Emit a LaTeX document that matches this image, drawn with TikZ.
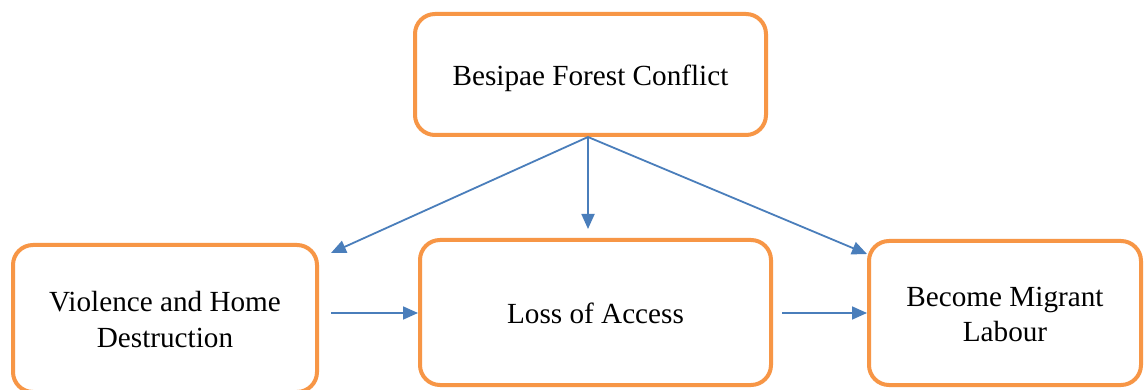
\documentclass[tikz,border=0pt]{standalone}
\usepackage{fontspec}
\setmainfont{Liberation Serif}
\usetikzlibrary{arrows.meta}
\definecolor{boxorange}{HTML}{F79646}
\definecolor{arrowblue}{HTML}{4A7EBB}
\newcommand{\lowtext}[1]{\raisebox{-4pt}[\height][\depth]{\begin{tabular}{@{}c@{}}#1\end{tabular}}}
\begin{document}
\begin{tikzpicture}[x=1pt,y=-1pt,
  box/.style={draw=boxorange, line width=4pt, rounded corners=20pt, fill=white,
    align=center, inner sep=0pt, font=\fontsize{29.2}{35}\selectfont},
  arr/.style={draw=arrowblue, line width=1.8pt, -{Triangle[length=15pt,width=13pt]}}]
\useasboundingbox (0,0) rectangle (1144,390);
\clip (0,0) rectangle (1144,390);
\fill[white] (0,0) rectangle (1144,390);
\node[box, minimum width=351pt, minimum height=121pt] (conf) at (590.5,74.5) {\lowtext{Besipae Forest Conflict}};
\node[box, minimum width=304pt, minimum height=147pt] (viol) at (165,318.5) {\lowtext{Violence and Home\\Destruction}};
\node[box, minimum width=351pt, minimum height=145pt] (loss) at (595.5,312.5) {\lowtext{Loss of Access}};
\node[box, minimum width=272pt, minimum height=144pt] (migr) at (1005,313) {\lowtext{Become Migrant\\Labour}};
\coordinate (src) at ([xshift=-2.5pt]conf.south);
\coordinate (tipL) at (331,253);
\coordinate (tipM) at (588,229);
\coordinate (tipR) at (867,254);
\coordinate (hA) at (331,313);
\coordinate (hB) at (782,313);
\draw[arr] (src) -- (tipL);
\draw[arr] (src) -- (tipM);
\draw[arr] (src) -- (tipR);
\draw[arr] (hA) -- (hA -| loss.west);
\draw[arr] (hB) -- (hB -| migr.west);
\end{tikzpicture}
\end{document}
